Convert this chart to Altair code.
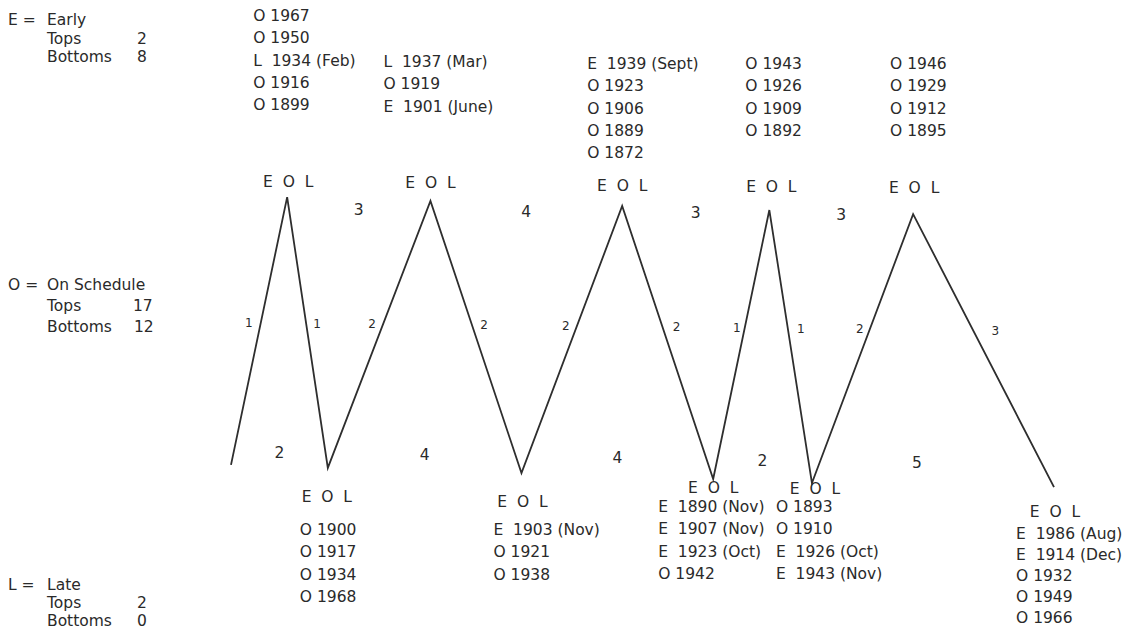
import altair as alt
import pandas as pd

NB = "\u00a0"

# ---------------- data ----------------
# zig-zag vertices: position along the cycle (years) and level (0 = bottom row, 100 = top row)
vertex_year = [0.0, 1.16, 2.0, 4.12, 6.0, 8.08, 9.96, 11.12, 12.0, 14.09, 17.0]
vertex_level = [4.1, 103.3, 3.0, 101.9, 1.1, 100.0, -1.1, 98.5, -2.6, 97.0, -4.1]
leg_years = [1, 1, 2, 2, 2, 2, 1, 1, 2, 3]
top_gaps = [3, 4, 3, 3]
bottom_gaps = [2, 4, 4, 2, 5]
eol_label = "E" + NB * 2 + "O" + NB * 2 + "L"

top_lists = [
    ["O 1967", "O 1950", "L  1934 (Feb)", "O 1916", "O 1899"],
    ["L  1937 (Mar)", "O 1919", "E  1901 (June)"],
    ["E  1939 (Sept)", "O 1923", "O 1906", "O 1889", "O 1872"],
    ["O 1943", "O 1926", "O 1909", "O 1892"],
    ["O 1946", "O 1929", "O 1912", "O 1895"],
]
bottom_lists = [
    ["O 1900", "O 1917", "O 1934", "O 1968"],
    ["E  1903 (Nov)", "O 1921", "O 1938"],
    ["E  1890 (Nov)", "E  1907 (Nov)", "E  1923 (Oct)", "O 1942"],
    ["O 1893", "O 1910", "E  1926 (Oct)", "E  1943 (Nov)"],
    ["E  1986 (Aug)", "E  1914 (Dec)", "O 1932", "O 1949", "O 1966"],
]
legend_keys = ["E =", "O =", "L ="]
legend_names = ["Early", "On Schedule", "Late"]
legend_tops = [2, 17, 2]
legend_bottoms = [8, 12, 0]

# ---------------- layout (pixels of the page) ----------------
W, H = 1128, 622
X0, PXY = 231.0, (1054.0 - 231.0) / 17.0
Y0, PXL = 476.0, 2.7


def to_x(px):
    return (px - X0) / PXY


def to_y(py):
    return (Y0 - py) / PXL


def px_x(v):
    return X0 + v * PXY


def px_y(v):
    return Y0 - v * PXL


def keep_spaces(s):
    return str(s).replace(" ", NB)


peaks = [1, 3, 5, 7, 9]
troughs = [2, 4, 6, 8, 10]
bottoms_all = [0, 2, 4, 6, 8, 10]

top_col_dx = [-34, -47, -35, -24, -23]
top_col_first = [16, 62, 64, 64, 64]
top_line_h = [22.3, 22.3, 22.3, 22.3, 22.3]
bot_col_dx = [-28, -28, -55, -36, -38]
bot_col_first = [530, 530, 507, 507, 534]
bot_line_h = [22.3, 22.3, 22.3, 22.3, 21.0]
eol_top_dx = [1, 0, 0, 2, 1]
eol_top_y = [182, 183, 186, 187, 188]
eol_bot_dx = [-1, 1, 0, 3, 1]
eol_bot_y = [497, 502, 488, 489, 512]
gap_bot_dx = [0, 0, 0, 0, -16]
leg_dx = [-12, 11, -11, 12, -11, 14, -8, 13, -10, 22]

rows = []


def add(px, py, text, kind):
    rows.append({"x": to_x(px), "y": to_y(py), "text": keep_spaces(text), "kind": kind})


vx = [px_x(v) for v in vertex_year]
vy = [px_y(v) for v in vertex_level]

for k, i in enumerate(peaks):
    add(vx[i] + eol_top_dx[k], eol_top_y[k], eol_label, "center")
    for r, t in enumerate(top_lists[k]):
        add(vx[i] + top_col_dx[k], top_col_first[k] + r * top_line_h[k], t, "left")

for k, i in enumerate(troughs):
    add(vx[i] + eol_bot_dx[k], eol_bot_y[k], eol_label, "center")
    for r, t in enumerate(bottom_lists[k]):
        add(vx[i] + bot_col_dx[k], bot_col_first[k] + r * bot_line_h[k], t, "left")

# gap numbers between consecutive tops / bottoms
for k, g in enumerate(top_gaps):
    a, b = peaks[k], peaks[k + 1]
    mx = (vx[a] + vx[b]) / 2
    add(mx, 210 + 0.01 * (mx - 357), g, "center")
for k, g in enumerate(bottom_gaps):
    a, b = bottoms_all[k], bottoms_all[k + 1]
    mx = (vx[a] + vx[b]) / 2 + gap_bot_dx[k]
    add(mx, 453 + 0.016 * (mx - 279), g, "center")

# leg durations beside each leg
for j, d in enumerate(leg_years):
    ax, ay, bx, by = vx[j], vy[j], vx[j + 1], vy[j + 1]
    ly = 323 + 0.0105 * ((ax + bx) / 2 - 259)
    t = (ly - ay) / (by - ay)
    lx = ax + t * (bx - ax)
    add(lx + leg_dx[j], ly, d, "small")

# legend blocks
legend_y = [20, 285, 585]
legend_gap = [18.5, 21, 18]
for k in range(3):
    y0 = legend_y[k]
    add(8, y0, legend_keys[k], "left")
    add(47, y0, legend_names[k], "left")
    add(47, y0 + legend_gap[k], "Tops", "left")
    add(47, y0 + 2 * legend_gap[k], "Bottoms", "left")
    add(137 if legend_tops[k] < 10 else 133, y0 + legend_gap[k], legend_tops[k], "left")
    add(137 if legend_bottoms[k] < 10 else 134, y0 + 2 * legend_gap[k], legend_bottoms[k], "left")

texts = pd.DataFrame(rows)
line_df = pd.DataFrame({"year": vertex_year, "level": vertex_level,
                        "order": list(range(len(vertex_year)))})

x_scale = alt.Scale(domain=[to_x(8), to_x(8 + W)], nice=False, zero=False)
y_scale = alt.Scale(domain=[to_y(8 + H), to_y(8)], nice=False, zero=False)

FONT = "DejaVu Sans"
INK = "#2a2a2a"

line = alt.Chart(line_df).mark_line(color="#2e2e2e", strokeWidth=1.8).encode(
    x=alt.X("year:Q", scale=x_scale, axis=None),
    y=alt.Y("level:Q", scale=y_scale, axis=None),
    order="order:Q",
)


def text_layer(kind, align, size):
    return alt.Chart(texts).transform_filter(alt.datum.kind == kind).mark_text(
        align=align, baseline="middle", font=FONT, fontSize=size, color=INK
    ).encode(
        x=alt.X("x:Q", scale=x_scale, axis=None),
        y=alt.Y("y:Q", scale=y_scale, axis=None),
        text="text:N",
    )


chart = alt.layer(
    line,
    text_layer("left", "left", 15.5),
    text_layer("center", "center", 15.5),
    text_layer("small", "center", 12),
).properties(
    width=W, height=H, padding=0,
    autosize=alt.AutoSizeParams(type="none"),
).configure_view(stroke=None)

chart.save("out.html", embed_options={"renderer": "svg", "actions": False})
